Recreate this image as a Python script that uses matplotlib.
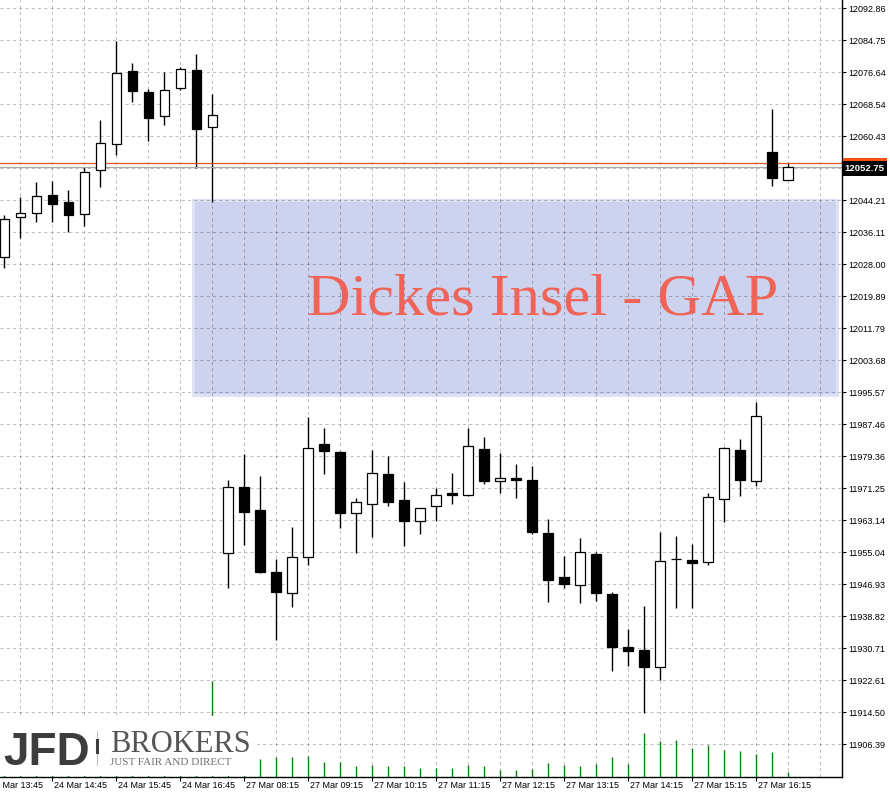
import matplotlib.pyplot as plt
from matplotlib.patches import Rectangle

# DAX 15-Minuten-Kerzen, 24.03. / 27.03.
opens = [12029.9, 12039.9, 12040.9, 12045.6, 12043.8, 12040.7, 12051.8, 12058.4, 12076.9, 12071.7,
         12065.5, 12072.8, 12077.2, 12062.7, 11954.8, 11971.5, 11965.7, 11950.0, 11944.7, 11953.8,
         11982.5, 11980.5, 11964.9, 11967.2, 11974.9, 11968.3, 11962.9, 11966.7, 11970.0, 11969.5,
         11981.1, 11973.0, 11973.8, 11973.3, 11959.9, 11948.7, 11946.7, 11954.6, 11944.5, 11931.0,
         11930.3, 11926.1, 11953.3, 11953.0, 11952.7, 11968.6, 11980.9, 11973.0, 12056.5, 12049.4]
highs = [12040.5, 12045.1, 12048.9, 12049.1, 12046.8, 12052.7, 12064.6, 12084.6, 12079.0, 12072.4,
         12076.7, 12078.0, 12081.3, 12071.2, 11973.4, 11979.9, 11974.5, 11953.3, 11961.4, 11989.3,
         11986.5, 11980.6, 11968.8, 11981.0, 11979.4, 11972.9, 11966.2, 11971.3, 11975.1, 11986.5,
         11984.3, 11980.2, 11977.4, 11976.9, 11963.5, 11954.1, 11958.7, 11955.0, 11945.0, 11935.6,
         11941.4, 11960.1, 11959.2, 11957.1, 11970.1, 11981.6, 11983.7, 11993.1, 12067.3, 12053.7]
lows = [12027.2, 12034.7, 12038.7, 12038.7, 12036.2, 12037.7, 12047.7, 12055.7, 12069.2, 12059.3,
        12063.4, 12072.2, 12052.5, 12043.9, 11946.1, 11956.8, 11949.9, 11932.8, 11941.3, 11951.9,
        11975.0, 11961.3, 11954.9, 11959.0, 11966.8, 11956.7, 11959.8, 11963.0, 11967.4, 11969.4,
        11972.4, 11970.1, 11968.9, 11959.8, 11942.5, 11946.1, 11942.3, 11942.8, 11925.0, 11926.3,
        11914.4, 11922.8, 11940.8, 11941.0, 11951.9, 11962.8, 11969.4, 11971.9, 12047.9, 12049.4]
closes = [12039.4, 12041.0, 12045.3, 12043.4, 12040.6, 12051.3, 12058.7, 12076.6, 12072.0, 12065.1,
          12072.3, 12077.4, 12062.4, 12065.8, 11971.7, 11965.3, 11950.1, 11945.1, 11953.8, 11981.4,
          11980.8, 11965.1, 11967.7, 11975.1, 11967.9, 11963.0, 11966.2, 11969.5, 11969.6, 11981.9,
          11973.2, 11973.8, 11973.4, 11960.3, 11948.1, 11947.1, 11955.0, 11944.8, 11931.0, 11930.1,
          11926.1, 11952.8, 11953.3, 11952.4, 11969.0, 11981.4, 11973.4, 11989.7, 12049.9, 12052.75]
volumes = [420, 380, 450, 360, 400, 520, 560, 640, 480, 430,
           400, 350, 600, 1152, 640, 560, 216, 240, 240, 252,
           180, 180, 132, 144, 132, 132, 108, 108, 108, 144,
           132, 84, 84, 96, 168, 144, 132, 156, 240, 156,
           528, 432, 444, 348, 384, 324, 312, 276, 300, 60]

time_ticks = [-1, 3, 7, 11, 15, 19, 23, 27, 31, 35, 39, 43, 47]
time_labels = ["24 Mar 13:45", "24 Mar 14:45", "24 Mar 15:45", "24 Mar 16:45", "27 Mar 08:15",
               "27 Mar 09:15", "27 Mar 10:15", "27 Mar 11:15", "27 Mar 12:15", "27 Mar 13:15",
               "27 Mar 14:15", "27 Mar 15:15", "27 Mar 16:15"]
price_labels = ["12092.86", "12084.75", "12076.64", "12068.54", "12060.43", "12052.32", "12044.21",
                "12036.11", "12028.00", "12019.89", "12011.79", "12003.68", "11995.57", "11987.46",
                "11979.36", "11971.25", "11963.14", "11955.04", "11946.93", "11938.82", "11930.71",
                "11922.61", "11914.50", "11906.39"]
bid = 12052.75
ask = 12053.75
gap_top = 12044.5
gap_bottom = 11994.4

fig = plt.figure(figsize=(8.9, 7.93), dpi=100)
ax = fig.add_axes([0, 16 / 793, 842 / 890, 777 / 793])
ax.set_xlim(-0.27, 52.36)
ax.set_ylim(11898.1, 12095.0)

# Gitter
prices = [float(p) for p in price_labels]
for p in prices:
    ax.axhline(p, color='black', alpha=0.25, lw=0.75, dashes=(3, 3), zorder=1)
for k in range(1, 53, 2):
    ax.axvline(k, color='black', alpha=0.25, lw=0.75, dashes=(3, 3), zorder=1)

# Gap-Rechteck
ax.add_patch(Rectangle((11.7, gap_bottom), 52.2 - 11.7, gap_top - gap_bottom,
                       facecolor='#dfe2f5', edgecolor='none', zorder=0.5))
ax.add_patch(Rectangle((11.9, gap_bottom + 0.75), 52.0 - 11.9, gap_top - gap_bottom - 1.5,
                       facecolor='#cdd2ee', edgecolor='none', zorder=0.6))
ax.text(18.9, 12015.2, "Dickes Insel - GAP", family='Liberation Serif', fontsize=43.5,
        color='#ef6456', ha='left', va='baseline', zorder=4)

# Kerzen
x = list(range(len(opens)))
ax.vlines(x, lows, highs, color='black', lw=1.0, zorder=2)
for i in x:
    up = closes[i] >= opens[i]
    ax.bar(i, abs(closes[i] - opens[i]), bottom=min(opens[i], closes[i]), width=0.6,
           facecolor='white' if up else 'black', edgecolor='black', lw=0.9, zorder=3)

# Bid / Ask
ax.axhline(ask, color='#e0552a', lw=0.9, zorder=2.2)
ax.axhline(bid, color='#a8a8a8', lw=0.9, zorder=2.1)

# Achsen
for s in ['left', 'top']:
    ax.spines[s].set_visible(False)
ax.spines['right'].set_linewidth(1.0)
ax.spines['bottom'].set_linewidth(1.0)

vol_ax = ax.twinx()
vol_ax.vlines(x, 0, volumes, color='#008000', lw=1.0)
vol_ax.set_ylim(0, max(volumes) / 0.1236)
vol_ax.axis('off')

ax.yaxis.tick_right()
ax.set_yticks(prices)
ax.set_yticklabels(price_labels, family='Liberation Sans')
ax.tick_params(axis='y', direction='out', length=3, pad=1.5, labelsize=6.5, width=0.8)
# das Bid-Label verdeckt diesen Tick-Text
for t, lbl in zip(ax.get_yticklabels(), price_labels):
    if abs(float(lbl) - bid) < 4:
        t.set_visible(False)

ax.set_xticks(time_ticks[1:])
ax.set_xticklabels([])
ax.tick_params(axis='x', direction='out', length=3, width=0.8)
for k, lbl in zip(time_ticks, time_labels):
    ax.annotate(lbl, xy=(k, 0), xycoords=ax.get_xaxis_transform(), xytext=(1.2, -2.6),
                textcoords='offset points', ha='left', va='top', fontsize=6.5,
                family='Liberation Sans', annotation_clip=False)

# Preis-Label (Ask als schmaler Streifen, Bid schwarz darueber)
ax.add_patch(Rectangle((1.0015, 12052.4), 0.0515, 2.6, transform=ax.get_yaxis_transform(),
                       facecolor='#ff5010', edgecolor='none', clip_on=False, zorder=5))
ax.annotate(f"{bid:.2f}", xy=(1, bid), xycoords=ax.get_yaxis_transform(), xytext=(1.8, -1.5),
            textcoords='offset points', ha='left', va='center', fontsize=6.8, color='white',
            family='Liberation Sans', fontweight='bold', annotation_clip=False, zorder=6,
            bbox=dict(boxstyle='square,pad=0.3', fc='black', ec='none'))

# Logo
logo = fig.add_axes([0, 17 / 793, 257 / 890, 60 / 793])
logo.set_xlim(0, 1)
logo.set_ylim(0, 1)
logo.set_xticks([])
logo.set_yticks([])
for s in logo.spines.values():
    s.set_visible(False)
logo.text(0.015, 0.18, "JFD", family='Liberation Sans', fontweight='bold', fontsize=33,
          color='#3d3d40', ha='left', va='baseline')
logo.plot([0.377, 0.377], [0.18, 0.75], color='#b0b0b0', lw=0.6)
logo.plot([0.377, 0.377], [0.4, 0.6], color='#3d3d40', lw=2.2)
logo.text(0.428, 0.40, "BROKERS", family='Liberation Serif', fontsize=22, color='#555555',
          ha='left', va='baseline')
logo.text(0.428, 0.18, "JUST FAIR AND DIRECT", family='Liberation Serif', fontsize=8,
          color='#707070', ha='left', va='baseline')

fig.savefig("out.png", dpi=100)
